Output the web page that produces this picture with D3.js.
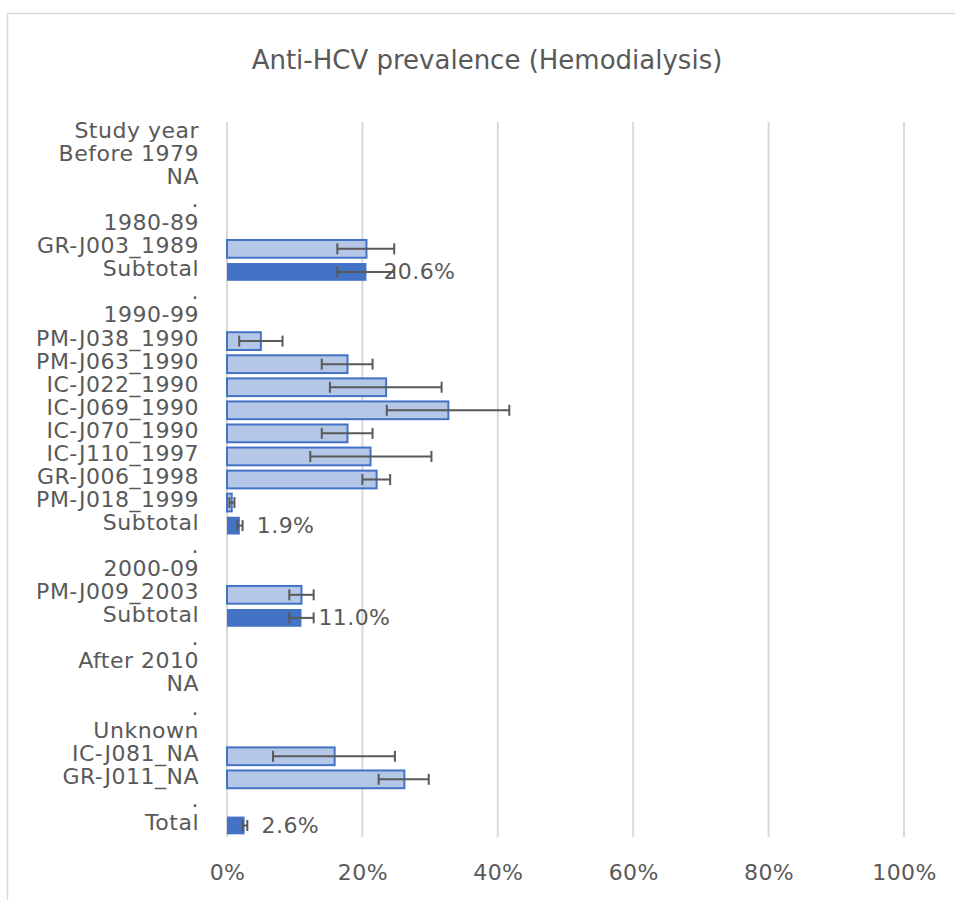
<!DOCTYPE html>
<html>
<head>
<meta charset="utf-8">
<script src="https://cdn.jsdelivr.net/npm/d3@7"></script>
<style>
  html, body { margin: 0; padding: 0; background: #fff; }
  svg { display: block; }
  text { font-family: "DejaVu Sans", Verdana, sans-serif; fill: #595959; }
</style>
</head>
<body>
<svg id="chart" width="955" height="900"></svg>
<script>
// Row labels, top to bottom
const categories = [
  "Study year", "Before 1979", "NA", ".",
  "1980-89", "GR-J003_1989", "Subtotal", ".",
  "1990-99", "PM-J038_1990", "PM-J063_1990", "IC-J022_1990", "IC-J069_1990",
  "IC-J070_1990", "IC-J110_1997", "GR-J006_1998", "PM-J018_1999", "Subtotal", ".",
  "2000-09", "PM-J009_2003", "Subtotal", ".",
  "After 2010", "NA", ".",
  "Unknown", "IC-J081_NA", "GR-J011_NA", ".",
  "Total"
];

// Prevalence point estimates (null = heading / spacer row)
const prevalence = [
  null, null, null, null,
  null, 0.206, 0.206, null,
  null, 0.050, 0.178, 0.235, 0.327,
  0.178, 0.212, 0.221, 0.007, 0.019, null,
  null, 0.110, 0.110, null,
  null, null, null,
  null, 0.159, 0.262, null,
  0.026
];

// 95% CI lower bounds
const ciLower = [
  null, null, null, null,
  null, 0.163, 0.163, null,
  null, 0.018, 0.140, 0.152, 0.236,
  0.140, 0.123, 0.200, 0.0035, 0.015, null,
  null, 0.092, 0.092, null,
  null, null, null,
  null, 0.068, 0.224, null,
  0.023
];

// 95% CI upper bounds
const ciUpper = [
  null, null, null, null,
  null, 0.247, 0.247, null,
  null, 0.082, 0.215, 0.317, 0.417,
  0.215, 0.302, 0.241, 0.011, 0.023, null,
  null, 0.128, 0.128, null,
  null, null, null,
  null, 0.248, 0.298, null,
  0.030
];

// Pooled rows carry a value label
const pooledLabels = [
  null, null, null, null,
  null, null, "20.6%", null,
  null, null, null, null, null,
  null, null, null, null, "1.9%", null,
  null, null, "11.0%", null,
  null, null, null,
  null, null, null, null,
  "2.6%"
];

const xTicks = [0, 0.2, 0.4, 0.6, 0.8, 1.0];
const title = "Anti-HCV prevalence (Hemodialysis)";

const rows = categories.map((label, i) => ({
  i, label,
  value: prevalence[i], lo: ciLower[i], hi: ciUpper[i],
  tag: pooledLabels[i],
  pooled: label === "Subtotal" || label === "Total"
}));

const svg = d3.select("#chart");

// chart frame
svg.append("rect")
  .attr("x", 7.5).attr("y", 13.5)
  .attr("width", 980).attr("height", 920)
  .attr("fill", "none").attr("stroke", "#D9D9D9").attr("stroke-width", 1.5);

const x = d3.scaleLinear().domain([0, 1]).range([227, 904]);
const y = d3.scaleBand()
  .domain(rows.map(d => d.i))
  .range([122, 837])
  .paddingInner(0.23)
  .paddingOuter(0.115);

// title
svg.append("text")
  .attr("x", 487).attr("y", 60)
  .attr("text-anchor", "middle")
  .attr("dominant-baseline", "central")
  .style("font-size", "26px")
  .text(title);

// vertical gridlines
svg.append("g")
  .selectAll("line")
  .data(xTicks)
  .join("line")
  .attr("x1", d => x(d)).attr("x2", d => x(d))
  .attr("y1", 122).attr("y2", 837)
  .attr("stroke", "#D9D9D9").attr("stroke-width", 2);

// x axis tick labels
const xAxis = d3.axisBottom(x)
  .tickValues(xTicks)
  .tickFormat(d3.format(".0%"))
  .tickSize(0)
  .tickPadding(0);
const gx = svg.append("g")
  .attr("transform", "translate(0,860)")
  .call(xAxis);
gx.select(".domain").remove();
gx.selectAll("text")
  .attr("y", 0).attr("dy", "0.35em")
  .attr("transform", "translate(0,12)")
  .style("font-size", "22px")
  .style("letter-spacing", "0.4px")
  .style("font-family", "'DejaVu Sans', Verdana, sans-serif")
  .attr("fill", "#595959");

// category labels
const yAxis = d3.axisLeft(y)
  .tickFormat(i => categories[i])
  .tickSize(0)
  .tickPadding(0);
const gy = svg.append("g")
  .attr("transform", "translate(199,0)")
  .call(yAxis);
gy.select(".domain").remove();
gy.selectAll("text")
  .attr("dy", "0.2em")
  .style("font-size", "22px")
  .style("letter-spacing", "0.5px")
  .style("font-family", "'DejaVu Sans', Verdana, sans-serif")
  .attr("fill", "#595959");

const data = rows.filter(d => d.value !== null);

// bars
svg.append("g")
  .selectAll("rect")
  .data(data)
  .join("rect")
  .attr("x", x(0))
  .attr("y", d => y(d.i))
  .attr("width", d => x(d.value) - x(0))
  .attr("height", y.bandwidth())
  .attr("fill", d => d.pooled ? "#4472C4" : "#B4C7E7")
  .attr("stroke", d => d.pooled ? "none" : "#4472C4")
  .attr("stroke-width", 2);

// error bars
const eb = svg.append("g")
  .attr("stroke", "#595959").attr("stroke-width", 2);
eb.selectAll("line.whisker")
  .data(data)
  .join("line").attr("class", "whisker")
  .attr("x1", d => x(d.lo)).attr("x2", d => x(d.hi))
  .attr("y1", d => y(d.i) + y.bandwidth() / 2)
  .attr("y2", d => y(d.i) + y.bandwidth() / 2);
["lo", "hi"].forEach(k => {
  eb.selectAll("line.cap-" + k)
    .data(data)
    .join("line").attr("class", "cap-" + k)
    .attr("x1", d => x(d[k])).attr("x2", d => x(d[k]))
    .attr("y1", d => y(d.i) + y.bandwidth() / 2 - 5.5)
    .attr("y2", d => y(d.i) + y.bandwidth() / 2 + 5.5);
});

// pooled value labels
svg.append("g")
  .selectAll("text")
  .data(data.filter(d => d.tag))
  .join("text")
  .attr("x", d => x(d.value) + 17)
  .attr("y", d => y(d.i) + y.bandwidth() / 2)
  .attr("dominant-baseline", "central")
  .style("font-size", "22px")
  .style("letter-spacing", "0.4px")
  .text(d => d.tag);
</script>
</body>
</html>
